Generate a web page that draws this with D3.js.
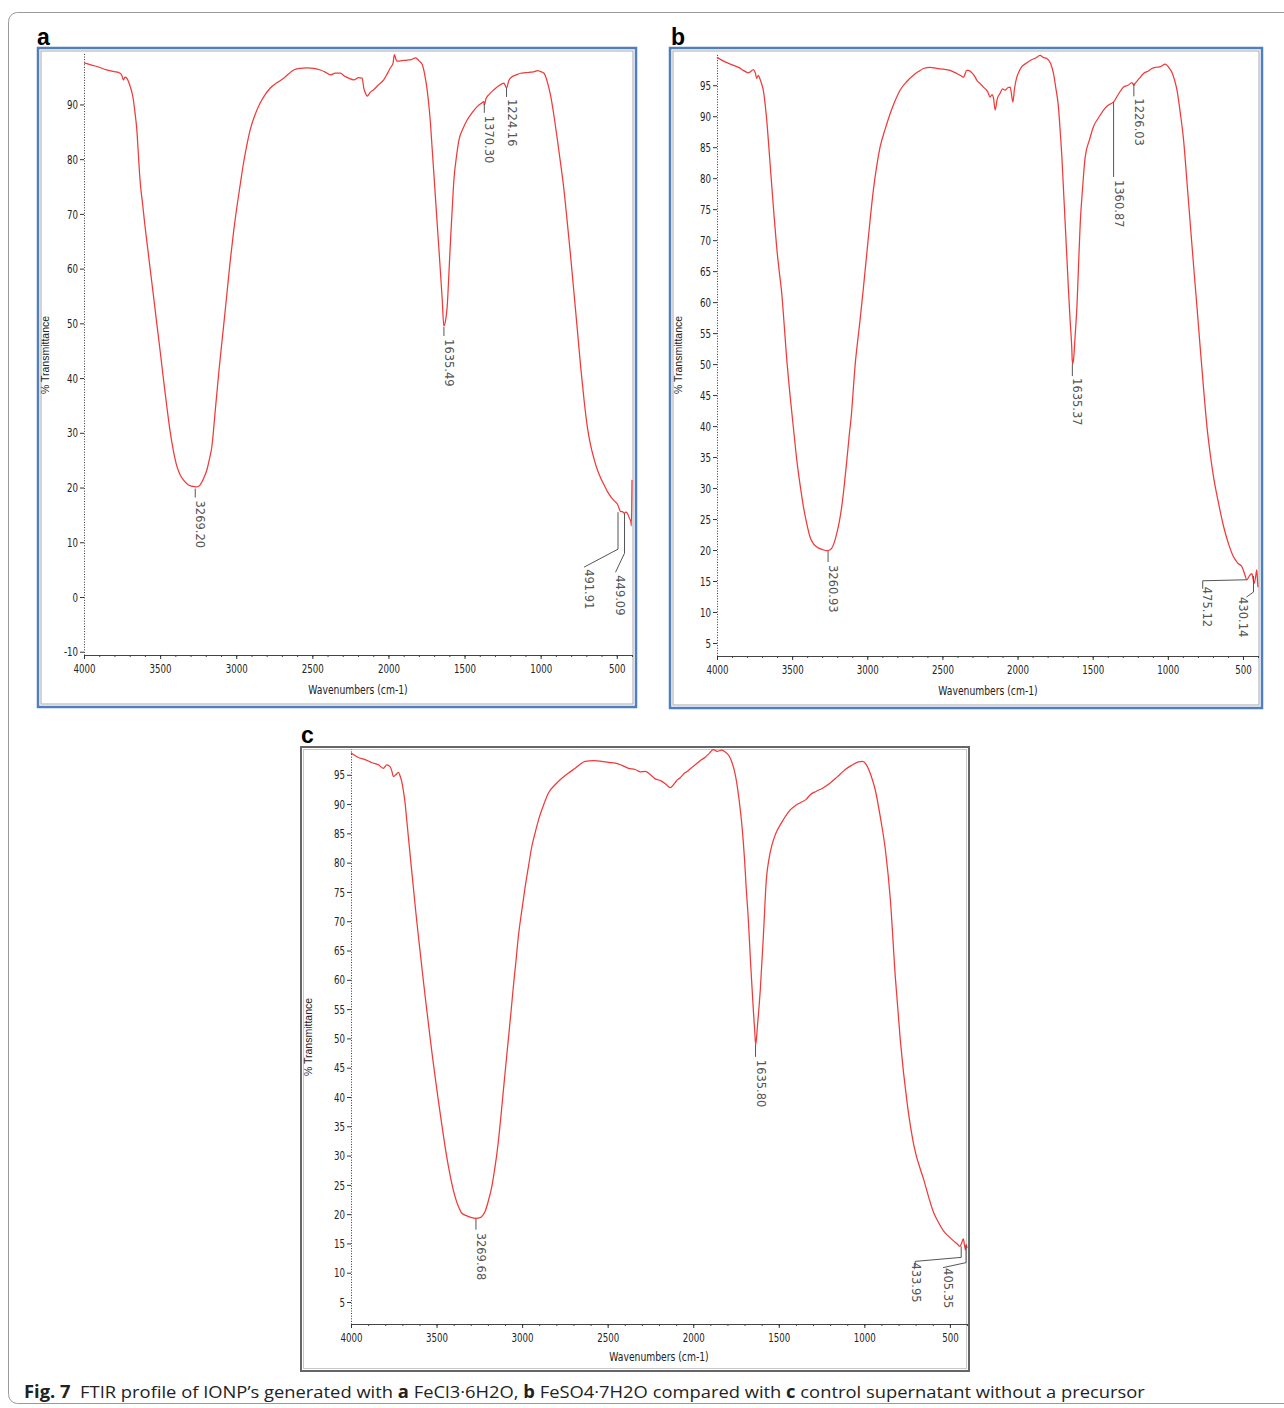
<!DOCTYPE html>
<html><head><meta charset="utf-8">
<script src="https://cdn.jsdelivr.net/npm/d3@7"></script>
<style>body{margin:0;background:#fff}svg{display:block}</style>
</head><body>
<svg id="fig" width="1284" height="1408"></svg>
<script>
// ---------------- DATA ----------------
const aWavenumber = [4000,3950,3900,3851,3800,3763,3750,3741,3730,3719,3708,3697,3686,3676,3665,3653,3642,3632,3615,3599,3582,3566,3544,3522,3500,3489,3478,3456,3434,3412,3390,3368,3347,3320,3300,3281,3260,3237,3215,3193,3176,3160,3149,3138,3127,3116,3100,3083,3061,3039,3017,2995,2973,2952,2930,2908,2875,2842,2810,2776,2730,2688,2655,2623,2580,2535,2490,2447,2415,2382,2350,2316,2290,2261,2228,2195,2173,2162,2150,2140,2120,2097,2065,2031,2010,1987,1970,1961,1950,1943,1910,1877,1850,1822,1800,1778,1762,1746,1735,1724,1713,1702,1691,1680,1669,1658,1647,1636,1625,1614,1603,1592,1581,1570,1553,1537,1510,1482,1450,1417,1390,1373,1370,1360,1340,1307,1275,1241,1224,1210,1186,1160,1132,1100,1066,1040,1022,1000,978,955,934,912,890,868,847,825,803,781,759,737,715,693,671,649,627,605,584,562,539,518,496,485,474,463,452,441,430,419,408,404,400];
const aTransmittance = [97.6,97.2,96.8,96.3,96.0,95.7,95.2,94.5,95.0,94.8,94.2,93.3,92.3,90.9,88.5,85.4,80.5,76.2,71.8,67.7,63.8,60.1,55.1,50.0,45.0,42.4,39.8,34.8,30.2,26.6,23.9,22.3,21.4,20.6,20.3,20.2,20.1,20.5,21.6,23.2,25.2,27.5,30.5,34.0,37.3,40.6,45.0,49.5,55.5,61.5,66.8,71.4,75.5,79.3,82.6,85.4,88.2,90.3,91.8,93.0,94.0,94.8,95.6,96.3,96.6,96.7,96.6,96.3,95.9,95.4,95.7,95.7,95.2,94.8,94.5,94.9,94.8,93.0,92.0,91.5,92.2,92.7,93.6,94.5,95.5,96.7,97.5,99.1,98.2,97.9,98.0,98.1,98.2,98.5,98.0,97.3,95.5,92.7,90.0,86.6,82.0,77.5,72.9,68.3,63.8,59.2,54.5,49.5,50.5,53.1,59.0,65.3,71.0,76.2,80.5,83.5,85.6,87.2,88.5,89.6,90.2,90.5,89.9,91.0,91.8,92.7,93.4,93.9,93.0,94.3,95.1,95.4,95.7,95.8,95.9,96.0,96.2,96.0,95.7,94.0,91.5,87.8,83.5,79.0,74.4,68.4,62.2,55.5,48.8,42.0,36.0,31.0,27.6,25.2,23.2,21.7,20.5,19.3,18.3,17.6,17.0,16.2,15.6,15.6,15.3,15.5,15.3,14.5,13.8,13.0,21.4];

const bWavenumber = [4000,3950,3889,3850,3825,3790,3758,3745,3736,3725,3714,3703,3692,3680,3669,3658,3647,3636,3625,3614,3603,3586,3569,3558,3547,3536,3525,3514,3503,3486,3469,3447,3425,3403,3381,3358,3336,3300,3270,3250,3236,3220,3203,3186,3170,3153,3136,3120,3103,3092,3081,3065,3048,3025,3003,2981,2959,2937,2915,2880,2848,2815,2782,2737,2693,2660,2626,2580,2537,2495,2449,2405,2382,2360,2338,2327,2300,2282,2271,2250,2227,2200,2182,2170,2160,2149,2135,2116,2100,2083,2065,2049,2040,2031,2020,2005,1990,1972,1945,1916,1880,1850,1830,1805,1780,1761,1745,1728,1716,1705,1694,1683,1672,1661,1650,1639,1635,1628,1617,1605,1594,1583,1567,1550,1520,1495,1460,1428,1395,1361,1330,1295,1265,1239,1226,1217,1190,1162,1130,1106,1075,1050,1017,995,973,956,939,917,895,873,851,829,806,784,762,740,718,696,662,629,596,563,535,507,490,474,458,441,426,417,408,402,400];
const bTransmittance = [99.5,98.8,98.2,97.8,97.4,97.0,97.5,97.0,96.1,96.6,96.0,95.2,94.2,92.0,89.4,86.0,82.4,78.9,75.4,72.1,68.9,65.0,61.4,58.0,54.4,50.8,47.8,45.0,42.4,38.4,34.5,30.5,27.0,24.3,22.1,21.0,20.5,20.1,19.9,20.0,20.3,21.2,22.7,24.6,27.0,30.5,34.5,38.5,42.6,46.3,49.8,53.5,57.1,62.5,67.9,73.3,78.2,82.0,85.0,88.0,90.4,92.5,94.2,95.6,96.6,97.2,97.7,97.9,97.7,97.6,97.4,96.9,96.6,96.3,97.4,97.4,96.9,96.3,95.8,95.3,94.7,94.0,93.1,93.5,92.9,91.0,92.8,93.7,94.4,94.2,94.6,94.7,93.5,92.3,94.5,96.3,97.2,98.0,98.5,99.0,99.4,99.8,99.5,99.3,98.5,96.9,94.5,91.5,87.5,83.4,78.0,72.7,67.3,61.9,57.0,52.5,50.0,50.6,54.5,59.2,66.0,72.7,78.5,83.4,86.3,88.3,89.8,91.0,91.8,92.3,93.5,94.7,95.0,95.4,95.0,95.3,96.1,96.9,97.3,97.7,97.9,98.0,98.4,97.9,97.1,95.9,94.2,90.5,86.1,79.5,72.7,66.0,59.2,52.5,46.0,40.0,35.5,31.8,27.5,23.8,21.0,18.9,17.9,17.3,16.2,15.2,15.8,16.2,14.6,15.5,16.8,14.5,14.0];

const cWavenumber = [4000,3960,3918,3880,3840,3811,3791,3772,3760,3753,3738,3723,3713,3704,3694,3684,3675,3665,3650,3636,3621,3606,3591,3577,3557,3538,3524,3509,3490,3470,3450,3431,3412,3392,3372,3353,3323,3294,3270,3246,3230,3216,3197,3177,3163,3148,3133,3119,3105,3090,3080,3065,3051,3036,3022,3002,2982,2962,2943,2923,2904,2875,2846,2807,2768,2729,2690,2661,2632,2583,2534,2495,2456,2417,2378,2339,2310,2280,2250,2222,2190,2160,2135,2115,2100,2076,2050,2030,2010,1988,1960,1930,1905,1883,1860,1835,1813,1790,1770,1754,1733,1713,1700,1690,1678,1665,1649,1640,1635,1625,1608,1590,1573,1555,1540,1520,1480,1433,1400,1370,1340,1316,1280,1240,1199,1160,1111,1075,1035,1010,988,960,936,905,877,848,819,790,750,711,653,594,565,536,507,477,460,442,432,422,415,409,404,400];
const cTransmittance = [98.7,98.0,97.6,97.1,96.7,96.1,96.7,96.4,95.5,94.7,95.0,95.4,94.8,93.9,92.3,90.2,87.5,84.5,80.0,75.9,71.5,67.4,63.5,59.8,54.8,50.2,46.9,43.6,39.5,35.4,31.5,28.2,25.4,23.0,21.3,20.2,19.7,19.4,19.3,19.4,19.8,20.5,22.3,24.7,27.2,30.2,34.0,38.2,42.5,47.0,50.0,54.5,58.9,63.2,67.4,71.8,75.9,79.5,82.8,85.2,87.3,89.8,91.9,93.3,94.4,95.3,96.1,96.8,97.3,97.4,97.3,97.1,97.0,96.6,96.1,95.9,95.5,95.6,95.0,94.3,94.0,93.4,92.8,93.3,93.9,94.5,95.3,95.7,96.2,96.7,97.4,98.0,98.7,99.3,99.0,99.2,98.9,98.2,96.8,95.0,91.0,85.6,80.5,75.5,70.3,63.0,55.0,51.0,48.9,52.0,58.3,67.5,77.0,81.0,83.0,84.8,87.0,89.0,89.8,90.3,90.8,91.6,92.2,92.8,93.6,94.6,95.9,96.6,97.2,97.3,96.7,94.8,92.4,87.5,82.2,73.7,60.5,49.8,39.0,31.8,25.9,20.2,18.5,17.1,16.2,15.4,15.0,14.5,15.0,15.8,14.8,13.9,14.8,14.2];

const aPeakLabels = ["3269.20","1635.49","1370.30","1224.16","491.91","449.09"];
const aPeakWn = [3269.20,1635.49,1370.30,1224.16,491.91,449.09];
const aPeakT = [20.0,49.5,90.3,93.2,15.5,15.3];
const bPeakLabels = ["3260.93","1635.37","1360.87","1226.03","475.12","430.14"];
const bPeakWn = [3260.93,1635.37,1360.87,1226.03,475.12,430.14];
const bPeakT = [20.0,50.0,92.3,95.3,15.2,15.8];
const cPeakLabels = ["3269.68","1635.80","433.95","405.35"];
const cPeakWn = [3269.68,1635.80,433.95,405.35];
const cPeakT = [19.4,48.9,14.5,14.8];

const xTickValues = [4000,3500,3000,2500,2000,1500,1000,500];
const aYTicks = [-10,0,10,20,30,40,50,60,70,80,90];
const bYTicks = [5,10,15,20,25,30,35,40,45,50,55,60,65,70,75,80,85,90,95];
const cYTicks = [5,10,15,20,25,30,35,40,45,50,55,60,65,70,75,80,85,90,95];

// ---------------- LAYOUT ----------------
const panels = [
  { letter:"a", wn:aWavenumber, t:aTransmittance, pw:aPeakWn, pt:aPeakT, pl:aPeakLabels, yTicks:aYTicks,
    frame:{x:38,y:48,w:598,h:659}, blue:true,
    plot:{l:84,r:632,t:53,b:655}, yDomain:[-10.6,99.4],
    letterPos:[37,45], yTitle:[49,355], xTitle:[358,694],
    leaders:[ {p:[[0,1],[0,10]], t:[1,13]}, {p:[[0,1],[0,10]], t:[1,13]}, {p:[[0,1],[0,10]], t:[1,13]}, {p:[[0,1],[0,10]], t:[1,12]},
              {p:[[0,0],[0,37],[-34,55]], t:[-33,57]}, {p:[[0,0],[0,40],[-9,59]], t:[-9,62]} ] },
  { letter:"b", wn:bWavenumber, t:bTransmittance, pw:bPeakWn, pt:bPeakT, pl:bPeakLabels, yTicks:bYTicks,
    frame:{x:670,y:48,w:592,h:660}, blue:true,
    plot:{l:717,r:1258,t:53,b:656}, yDomain:[2.9,100.2],
    letterPos:[671,45], yTitle:[682,355], xTitle:[988,695],
    leaders:[ {p:[[0,1],[0,12]], t:[1,15]}, {p:[[0,0],[0,12]], t:[1,14]}, {p:[[0,0],[0,75]], t:[1,78]}, {p:[[0,0],[0,13]], t:[1,15]},
              {p:[[0,0],[-44,1],[-44,9]], t:[-43.5,7]}, {p:[[0,0],[0,16],[-7,21]], t:[-14,21]} ] },
  { letter:"c", wn:cWavenumber, t:cTransmittance, pw:cPeakWn, pt:cPeakT, pl:cPeakLabels, yTicks:cYTicks,
    frame:{x:301,y:747,w:668,h:624}, blue:false,
    plot:{l:351,r:967,t:749,b:1324}, yDomain:[1.25,99.4],
    letterPos:[301,743], yTitle:[312,1037], xTitle:[659,1361],
    leaders:[ {p:[[0,1],[0,12]], t:[1,15]}, {p:[[0,0],[0,12]], t:[1,15]},
              {p:[[0,0],[0,11],[-46,15],[-46,20]], t:[-49,16]}, {p:[[0,0],[0,18],[-23,23]], t:[-22,23.5]} ] }
];

const svg = d3.select("#fig");
const TICKFONT = "'Liberation Sans Narrow','DejaVu Sans Condensed',sans-serif";
const SX = 0.74;
const plainFmt = d => String(d);

svg.append("rect").attr("x",8.5).attr("y",12.5).attr("width",1300).attr("height",1391)
  .attr("rx",9).attr("fill","none").attr("stroke","#9a9a9a").attr("stroke-width",1);

panels.forEach(P => {
  const g = svg.append("g");
  const f = P.frame;
  if (P.blue) {
    g.append("rect").attr("x",f.x).attr("y",f.y).attr("width",f.w).attr("height",f.h)
      .attr("fill","#fff").attr("stroke","#4f7fc0").attr("stroke-width",2.5);
    g.append("rect").attr("x",f.x+3).attr("y",f.y+3).attr("width",f.w-6).attr("height",f.h-6)
      .attr("fill","none").attr("stroke","#a8a8a8").attr("stroke-width",1);
  } else {
    g.append("rect").attr("x",f.x).attr("y",f.y).attr("width",f.w).attr("height",f.h)
      .attr("fill","#fff").attr("stroke","#666").attr("stroke-width",2);
    g.append("rect").attr("x",f.x+2.5).attr("y",f.y+2.5).attr("width",f.w-5).attr("height",f.h-5)
      .attr("fill","none").attr("stroke","#c8c8c8").attr("stroke-width",1);
  }
  svg.append("text").attr("x",P.letterPos[0]).attr("y",P.letterPos[1]).text(P.letter)
    .attr("font-family","'Liberation Sans',Arial,sans-serif").attr("font-weight","bold")
    .attr("font-size",23).attr("fill","#000");

  const x = d3.scaleLinear().domain([4000,400]).range([P.plot.l,P.plot.r]);
  const y = d3.scaleLinear().domain(P.yDomain).range([P.plot.b,P.plot.t]);

  const minor = d3.range(4000,399,-100);
  g.append("g").attr("transform",`translate(0,${P.plot.b})`)
    .call(d3.axisBottom(x).tickValues(minor).tickSize(2).tickSizeOuter(0).tickFormat(""))
    .call(s=>s.select(".domain").attr("stroke","#444"))
    .call(s=>s.selectAll(".tick line").attr("stroke","#444"));
  g.append("g").attr("transform",`translate(0,${P.plot.b})`)
    .call(d3.axisBottom(x).tickValues(xTickValues).tickSize(4).tickSizeOuter(0).tickPadding(5).tickFormat(plainFmt))
    .call(s=>s.select(".domain").remove())
    .call(s=>s.selectAll(".tick line").attr("stroke","#333"))
    .call(s=>s.selectAll("text").attr("font-family",TICKFONT).attr("font-size",13).attr("fill","#222")
       .attr("transform",`scale(${SX},1)`));
  const ya = g.append("g").attr("transform",`translate(${P.plot.l},0)`)
    .call(d3.axisLeft(y).tickValues(P.yTicks).tickSize(4).tickSizeOuter(0).tickPadding(2).tickFormat(plainFmt));
  ya.select(".domain").attr("stroke","#333").attr("stroke-dasharray","1,1.6");
  ya.selectAll(".tick line").attr("stroke","#333");
  ya.selectAll("text").attr("font-family",TICKFONT).attr("font-size",13).attr("fill","#222")
    .attr("x",-6/SX).attr("transform",`scale(${SX},1)`);

  svg.append("text").attr("transform",`translate(${P.yTitle[0]},${P.yTitle[1]}) rotate(-90)`)
    .attr("text-anchor","middle").attr("font-family","'Liberation Sans',Arial,sans-serif")
    .attr("font-size",10.5).attr("fill","#222").text("% Transmittance");
  svg.append("text").attr("transform",`translate(${P.xTitle[0]},${P.xTitle[1]}) scale(${SX+0.08},1)`)
    .attr("text-anchor","middle").attr("font-family",TICKFONT)
    .attr("font-size",12.5).attr("fill","#222").text("Wavenumbers (cm-1)");

  const pts = P.wn.map((w,i)=>[w,P.t[i]]);
  g.append("path").datum(pts)
    .attr("d", d3.line().x(d=>x(d[0])).y(d=>y(d[1])).curve(d3.curveMonotoneX))
    .attr("fill","none").attr("stroke","#f03a3a").attr("stroke-width",1.25).attr("stroke-linejoin","round");

  P.pw.forEach((w,i)=>{
    const ax = x(w), ay = y(P.pt[i]);
    const L = P.leaders[i];
    g.append("path").attr("d", d3.line()(L.p.map(q=>[ax+q[0], ay+q[1]])))
      .attr("fill","none").attr("stroke","#555").attr("stroke-width",1);
    g.append("text").attr("transform",`translate(${ax+L.t[0]},${ay+L.t[1]}) rotate(90)`)
      .attr("font-family","'DejaVu Sans',sans-serif").attr("font-size",11.5).attr("fill","#555")
      .text(P.pl[i]);
  });
});

const cap = svg.append("text").attr("x",24).attr("y",1398)
  .attr("font-family","'Open Sans','Noto Sans',sans-serif").attr("font-size",17).attr("fill","#222")
  .style("white-space","pre");
const parts = [["Fig. 7",true],["  FTIR profile of IONP’s generated with ",false],["a",true],[" FeCl3·6H2O, ",false],["b",true],
  [" FeSO4·7H2O compared with ",false],["c",true],[" control supernatant without a precursor",false]];
parts.forEach(p=>cap.append("tspan").attr("font-weight",p[1]?"bold":"normal").text(p[0]));
const w = cap.node().getComputedTextLength();
cap.attr("transform",`translate(24,0) scale(${1121/w},1) translate(-24,0)`);
</script>
</body></html>
